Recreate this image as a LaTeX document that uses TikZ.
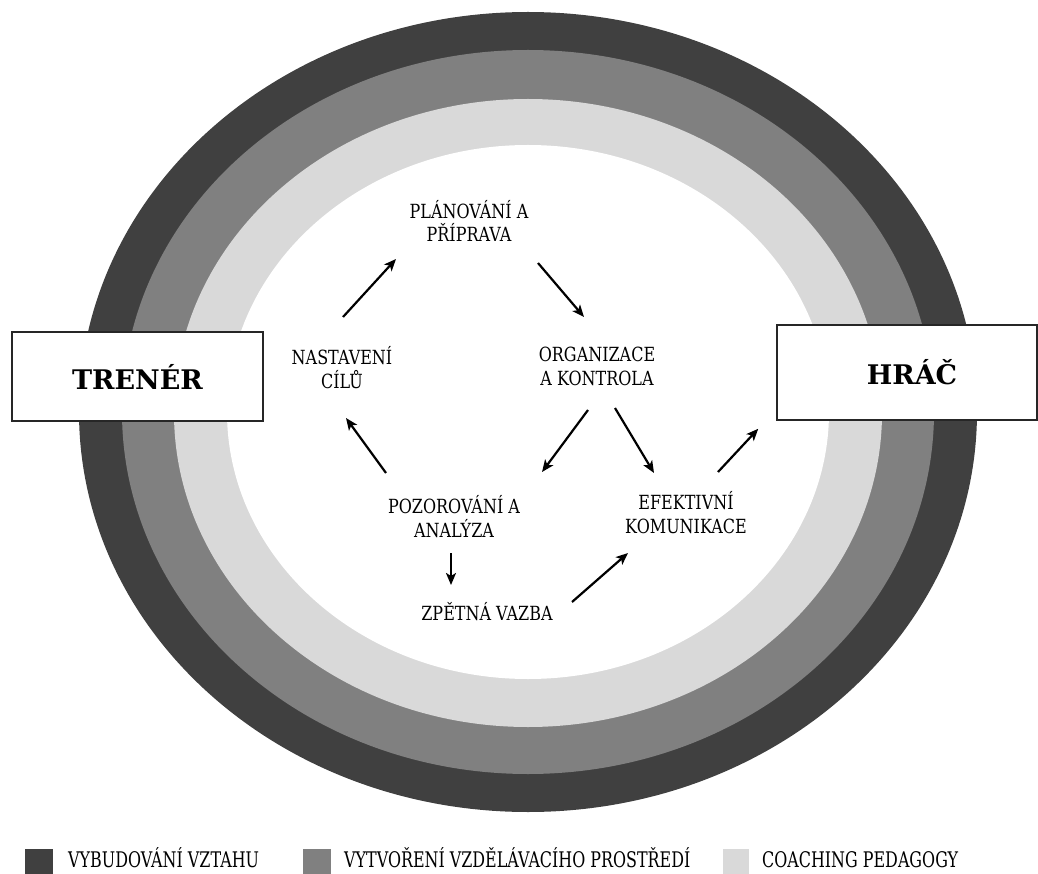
\documentclass[tikz,border=0pt]{standalone}
\usepackage{fontspec}
\setmainfont{DejaVu Serif}
\newfontfamily\lblfont[FakeStretch=0.82]{DejaVu Serif}
\newfontfamily\legfont[FakeStretch=0.74]{DejaVu Serif}
\usetikzlibrary{arrows.meta,calc}
\definecolor{ringdark}{HTML}{404040}
\definecolor{ringmid}{HTML}{808080}
\definecolor{ringlight}{HTML}{D9D9D9}
\begin{document}
\begin{tikzpicture}[x=1pt,y=-1pt,
  lbl/.style={font=\lblfont\fontsize{19.5}{23.5}\selectfont, align=center, anchor=base, inner sep=0pt},
  actor/.style={draw=black!85, line width=1.5pt, fill=white, font=\bfseries\fontsize{27}{32}\selectfont, inner sep=0pt},
  arr/.style={-{Stealth[length=12pt,width=10pt,inset=3pt]}, line width=2.2pt},
  leg/.style={font=\legfont\fontsize{21.5}{26}\selectfont, anchor=base west, inner sep=0pt},
  sq/.style={minimum width=28pt, minimum height=27pt, inner sep=0pt, anchor=north west}]
\useasboundingbox (0,0) rectangle (1038,874);
% rings
\fill[ringdark]  (528,412) ellipse [x radius=449pt, y radius=400pt];
\fill[ringmid]   (528,412) ellipse [x radius=406pt, y radius=362pt];
\fill[ringlight] (528,413) ellipse [x radius=354pt, y radius=314pt];
\fill[white]     (528,412) ellipse [x radius=301pt, y radius=267pt];
% actors
\node[actor, minimum width=251pt, minimum height=89pt] (trener) at (137.5,376.5) {TRENÉR};
\node[actor, minimum width=260pt, minimum height=95pt] (hrac) at (907,372.5) {\hspace*{10pt}HRÁČ};
% steps (base = baseline of last line)
\node[lbl] (plan) at (469,242) {PLÁNOVÁNÍ A\\PŘÍPRAVA};
\node[lbl] (nast) at (342,388) {NASTAVENÍ\\CÍLŮ};
\node[lbl] (org)  at (597,385) {ORGANIZACE\\A KONTROLA};
\node[lbl] (poz)  at (454,537) {POZOROVÁNÍ A\\ANALÝZA};
\node[lbl] (efek) at (686,533) {EFEKTIVNÍ\\KOMUNIKACE};
\node[lbl] (zpet) at (487,620) {ZPĚTNÁ VAZBA};
% arrows
\draw[arr] ($(nast.base)+(1,-71)$) -- ($(plan.base)+(-73,17)$);
\draw[arr] ($(plan.base)+(69,21)$) -- ($(org.base)+(-13,-68)$);
\draw[arr] ($(org.base)+(-9,25)$) -- ($(poz.base)+(88,-65)$);
\draw[arr] ($(org.base)+(18,23)$) -- ($(efek.base)+(-32,-60)$);
\draw[arr] ($(efek.base)+(32,-61)$) -- ($(hrac.south west)+(-18,8)$);
\draw[arr] ($(poz.base)+(-68,-64)$) -- ($(nast.base)+(4,30)$);
\draw[arr] ($(poz.base)+(-3,16)$) -- ($(zpet.base)+(-36,-35)$);
\draw[arr] ($(zpet.base)+(85,-18)$) -- ($(efek.base)+(-58,20)$);
% legend
\node[sq, fill=ringdark]  (sq1) at (25,849) {};
\node[sq, fill=ringmid]   (sq2) at (303,849) {};
\node[sq, fill=ringlight, minimum width=26pt] (sq3) at (723,849) {};
\node[leg] (l1) at (68,867) {VYBUDOVÁNÍ VZTAHU};
\node[leg] (l2) at (344,867) {VYTVOŘENÍ VZDĚLÁVACÍHO PROSTŘEDÍ};
\node[leg] (l3) at (762,867) {COACHING PEDAGOGY};
\end{tikzpicture}
\end{document}
